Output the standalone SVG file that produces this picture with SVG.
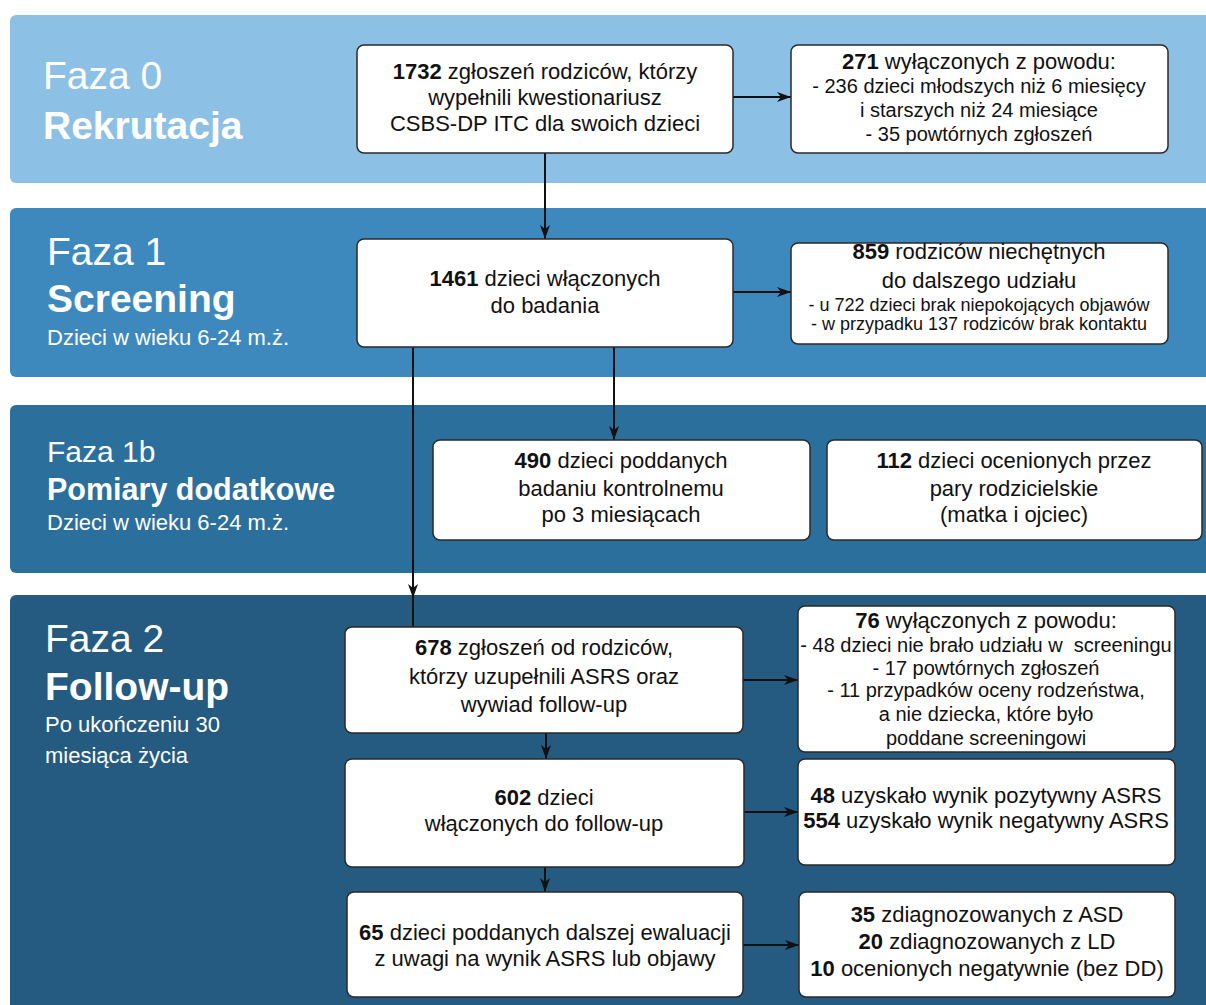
<svg xmlns="http://www.w3.org/2000/svg" width="1206" height="1005" viewBox="0 0 1206 1005">
<defs>
<style>
text{font-family:"Liberation Sans",Arial,Helvetica,sans-serif}
.band0{fill:#8CC1E5}
.band1{fill:#3D89BE}
.band1b{fill:#2B6F9C}
.band2{fill:#255B80}
.ph{fill:#fff;font-size:39px}
.phb{fill:#fff;font-size:39px;font-weight:bold}
.phs{fill:#fff;font-size:22px}
.box{fill:#fff;stroke:#2a2a2a;stroke-width:1.5}
.t{fill:#111;font-size:22px;text-anchor:middle}
.s{fill:#111;font-size:20px;text-anchor:middle}
.xs{fill:#111;font-size:18px;text-anchor:middle}
.b{font-weight:bold}
.conn{fill:none;stroke:#111;stroke-width:2}
</style>
<marker id="ah" viewBox="0 0 14 10" refX="14" refY="5" markerWidth="14" markerHeight="10" markerUnits="userSpaceOnUse" orient="auto">
<path d="M0,0 L14,5 L0,10 L4,5 Z" fill="#111"/>
</marker>
</defs>
<rect width="1206" height="1005" fill="#fff"/>

<g id="phase0">
<rect class="band0" x="10" y="15" width="1210" height="168" rx="6"/>
<text class="ph" x="43" y="89">Faza 0</text>
<text class="phb" x="43" y="139">Rekrutacja</text>
</g>
<g id="phase1">
<rect class="band1" x="10" y="208" width="1210" height="169" rx="6"/>
<text class="ph" x="47" y="265">Faza 1</text>
<text class="phb" x="47" y="312">Screening</text>
<text class="phs" x="47" y="345">Dzieci w wieku 6-24 m.ż.</text>
</g>
<g id="phase1b">
<rect class="band1b" x="10" y="405" width="1210" height="168" rx="6"/>
<text class="ph" x="47" y="462" style="font-size:30px">Faza 1b</text>
<text class="phb" x="47" y="500" style="font-size:30.5px">Pomiary dodatkowe</text>
<text class="phs" x="47" y="530">Dzieci w wieku 6-24 m.ż.</text>
</g>
<g id="phase2">
<rect class="band2" x="10" y="595" width="1210" height="420" rx="6"/>
<text class="ph" x="45" y="652">Faza 2</text>
<text class="phb" x="45" y="700">Follow-up</text>
<text class="phs" x="45" y="732">Po ukończeniu 30</text>
<text class="phs" x="45" y="763">miesiąca życia</text>
</g>

<g id="connectors">
<path class="conn" d="M733,97 H791" marker-end="url(#ah)"/>
<path class="conn" d="M545,153 V239" marker-end="url(#ah)"/>
<path class="conn" d="M733,292 H791" marker-end="url(#ah)"/>
<path class="conn" d="M614,347 V440" marker-end="url(#ah)"/>
<path class="conn" d="M413,347 V598" marker-end="url(#ah)"/>
<path class="conn" d="M413,596 V627"/>
<path class="conn" d="M743,680 H798" marker-end="url(#ah)"/>
<path class="conn" d="M546,733 V759" marker-end="url(#ah)"/>
<path class="conn" d="M744,812 H798" marker-end="url(#ah)"/>
<path class="conn" d="M545,867 V892" marker-end="url(#ah)"/>
<path class="conn" d="M743,945 H799" marker-end="url(#ah)"/>
</g>

<g id="n1732">
<rect class="box" x="357" y="45" width="376" height="108" rx="7"/>
<text class="t" x="545" y="79"><tspan class="b">1732</tspan> zgłoszeń rodziców, którzy</text>
<text class="t" x="545" y="105">wypełnili kwestionariusz</text>
<text class="t" x="545" y="131">CSBS-DP ITC dla swoich dzieci</text>
</g>
<g id="n271">
<rect class="box" x="791" y="45" width="377" height="108" rx="7"/>
<text class="t" x="979" y="69"><tspan class="b">271</tspan> wyłączonych z powodu:</text>
<text class="s" x="979" y="93">- 236 dzieci młodszych niż 6 miesięcy</text>
<text class="s" x="979" y="117">i starszych niż 24 miesiące</text>
<text class="s" x="979" y="141">- 35 powtórnych zgłoszeń</text>
</g>
<g id="n1461">
<rect class="box" x="357" y="239" width="376" height="108" rx="7"/>
<text class="t" x="545" y="286"><tspan class="b">1461</tspan> dzieci włączonych</text>
<text class="t" x="545" y="313">do badania</text>
</g>
<g id="n859">
<rect class="box" x="791" y="243" width="377" height="101" rx="7"/>
<text class="t" x="979" y="259"><tspan class="b">859</tspan> rodziców niechętnych</text>
<text class="t" x="979" y="288">do dalszego udziału</text>
<text class="xs" x="979" y="311">- u 722 dzieci brak niepokojących objawów</text>
<text class="xs" x="979" y="330">- w przypadku 137 rodziców brak kontaktu</text>
</g>
<g id="n490">
<rect class="box" x="433" y="440" width="377" height="100" rx="7"/>
<text class="t" x="621" y="468"><tspan class="b">490</tspan> dzieci poddanych</text>
<text class="t" x="621" y="496">badaniu kontrolnemu</text>
<text class="t" x="621" y="522">po 3 miesiącach</text>
</g>
<g id="n112">
<rect class="box" x="827" y="440" width="375" height="100" rx="7"/>
<text class="t" x="1014" y="468"><tspan class="b">112</tspan> dzieci ocenionych przez</text>
<text class="t" x="1014" y="496">pary rodzicielskie</text>
<text class="t" x="1014" y="522">(matka i ojciec)</text>
</g>
<g id="n678">
<rect class="box" x="345" y="627" width="398" height="106" rx="7"/>
<text class="t" x="544" y="655"><tspan class="b">678</tspan> zgłoszeń od rodziców,</text>
<text class="t" x="544" y="684">którzy uzupełnili ASRS oraz</text>
<text class="t" x="544" y="712">wywiad follow-up</text>
</g>
<g id="n76">
<rect class="box" x="798" y="606" width="377" height="146" rx="7"/>
<text class="t" x="986" y="628"><tspan class="b">76</tspan> wyłączonych z powodu:</text>
<text class="s" x="986" y="652" style="white-space:pre">- 48 dzieci nie brało udziału w  screeningu</text>
<text class="s" x="986" y="675">- 17 powtórnych zgłoszeń</text>
<text class="s" x="986" y="697">- 11 przypadków oceny rodzeństwa,</text>
<text class="s" x="986" y="721">a nie dziecka, które było</text>
<text class="s" x="986" y="745">poddane screeningowi</text>
</g>
<g id="n602">
<rect class="box" x="345" y="759" width="399" height="108" rx="7"/>
<text class="t" x="544" y="805"><tspan class="b">602</tspan> dzieci</text>
<text class="t" x="544" y="831">włączonych do follow-up</text>
</g>
<g id="n48">
<rect class="box" x="798" y="759" width="377" height="106" rx="7"/>
<text class="t" x="986" y="803"><tspan class="b">48</tspan> uzyskało wynik pozytywny ASRS</text>
<text class="t" x="986" y="828"><tspan class="b">554</tspan> uzyskało wynik negatywny ASRS</text>
</g>
<g id="n65">
<rect class="box" x="347" y="892" width="396" height="105" rx="7"/>
<text class="t" x="545" y="940"><tspan class="b">65</tspan> dzieci poddanych dalszej ewaluacji</text>
<text class="t" x="545" y="966">z uwagi na wynik ASRS lub objawy</text>
</g>
<g id="n35">
<rect class="box" x="799" y="892" width="376" height="105" rx="7"/>
<text class="t" x="987" y="922"><tspan class="b">35</tspan> zdiagnozowanych z ASD</text>
<text class="t" x="987" y="949"><tspan class="b">20</tspan> zdiagnozowanych z LD</text>
<text class="t" x="987" y="976"><tspan class="b">10</tspan> ocenionych negatywnie (bez DD)</text>
</g>
</svg>
